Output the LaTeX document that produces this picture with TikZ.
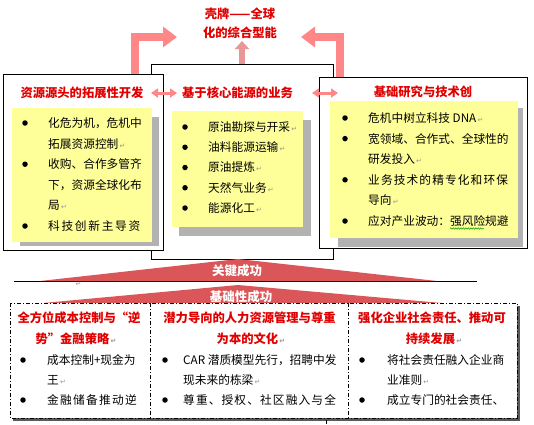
\documentclass[tikz,border=0pt]{standalone}
\usepackage{fontspec}
\setmainfont{Noto Sans CJK SC}
\newfontfamily\symfont{DejaVu Sans}
\usetikzlibrary{arrows.meta,decorations.pathmorphing}
\definecolor{tred}{RGB}{225,0,0}
\definecolor{apink}{RGB}{255,135,135}
\definecolor{mpink}{RGB}{232,150,150}
\definecolor{tri}{RGB}{218,86,88}
\definecolor{yel}{RGB}{255,255,153}
\definecolor{shd}{RGB}{178,178,178}
\definecolor{pm}{RGB}{150,150,150}
\newcommand{\pmark}{{\symfont\fontsize{7}{7}\selectfont\color{pm}\,↵}}
\newcommand{\lsp}[2]{{\addfontfeature{LetterSpace=#1}#2}}
\begin{document}
\begin{tikzpicture}[x=1pt,y=-1pt,
  body/.style={anchor=west,inner sep=0pt,font=\fontsize{11.7}{12}\selectfont},
  ttl/.style={inner sep=0pt,text=tred,font=\fontsize{12.3}{13}\selectfont\bfseries},
  wttl/.style={inner sep=0pt,text=white,font=\fontsize{12.5}{13}\selectfont\bfseries},
  bul/.style={circle,fill=black,inner sep=0pt,minimum size=5.5pt},
  frame/.style={draw=black,fill=white,line width=0.8pt,inner sep=0pt},
  bigarrow/.style={draw=apink,line width=8pt,-{Triangle[width=20pt,length=14pt]}},
  midarrow/.style={draw=mpink,line width=6pt,-{Triangle[width=14pt,length=8pt]}},
  dblarrow/.style={draw=apink,line width=3pt,{Triangle[width=9pt,length=7pt]}-{Triangle[width=9pt,length=7pt]}},
  dashdot/.style={draw=black,line width=0.9pt,dash pattern=on 4pt off 2pt on 1pt off 2pt}
]
\useasboundingbox (0,0) rectangle (534,424);

% title
\node[ttl] (t1) at (240,14) {壳牌——全球};
\node[ttl] (t2) at (240,33) {化的综合型能};

% center box
\node[frame,minimum width=182pt,minimum height=195pt] (cbox) at (242,161.5) {};
\fill[shd] (179,120) rectangle (311,236);
\fill[yel] (172,111) rectangle (303,227);
\node[ttl] (ct) at (237.5,93) {基于核心能源的业务};
\foreach \i/\t in {0/原油勘探与开采,1/油料能源运输,2/原油提炼,3/天然气业务,4/能源化工}{
  \node[bul] (cb\i) at (185,127+20.25*\i) {};
  \node[body] (cl\i) at (208,127+20.25*\i) {\t\pmark};
}

% left box
\node[frame,minimum width=160pt,minimum height=176pt] (lbox) at (83,162) {};
\fill[shd] (20,117) rectangle (159,246);
\fill[yel] (12,108) rectangle (152,242);
\node[ttl] (lt) at (82,93) {资源源头的拓展性开发};
\node[bul] (lb0) at (25,123) {};
\node[bul] (lb2) at (25,164.2) {};
\node[bul] (lb5) at (25,226) {};
\node[body] (ll0) at (48,123) {化危为机，危机中};
\node[body] (ll1) at (48,143.6) {拓展资源控制\pmark};
\node[body] (ll2) at (48,164.2) {收购、合作多管齐};
\node[body] (ll3) at (48,184.8) {下，资源全球化布};
\node[body] (ll4) at (48,205.4) {局\pmark};
\node[body] (ll5) at (48,226) {\lsp{14.5}{科技创新主导资}};

% right box
\node[frame,minimum width=208pt,minimum height=171pt] (rbox) at (423,162.5) {};
\fill[shd] (338,108) rectangle (523,247);
\fill[yel] (330,101) rectangle (518,238);
\node[ttl] (rt) at (423,92) {基础研究与技术创};
\node[bul] (rb0) at (345,118) {};
\node[bul] (rb1) at (345,138.6) {};
\node[bul] (rb3) at (345,179.8) {};
\node[bul] (rb5) at (345,221) {};
\node[body] (rl0) at (368,118) {危机中树立科技 DNA\pmark};
\node[body] (rl1) at (368,138.6) {宽领域、合作式、全球性的};
\node[body] (rl2) at (368,159.2) {研发投入\pmark};
\node[body] (rl3) at (368,179.8) {\lsp{9.5}{业务技术的精专化和环保}};
\node[body] (rl4) at (368,200.4) {导向\pmark};
\node[body] (rl5) at (368,221) {应对产业波动：强风险规避};
\coordinate (wv1) at (450,228.5);
\coordinate (wv2) at (484,228.5);
\draw[green!60!black,line width=0.5pt,decorate,decoration={snake,amplitude=0.7pt,segment length=2.5pt}] (wv1) -- (wv2);

% connectors between boxes
\coordinate (da1) at (151,93);
\coordinate (da2) at (177,93);
\coordinate (da3) at (312,93);
\coordinate (da4) at (338,93);
\draw[dblarrow] (da1) -- (da2);
\draw[dblarrow] (da3) -- (da4);

% big arrows to title
\coordinate (la0) at (135,74);
\coordinate (lat) at (177,37);
\coordinate (ra0) at (340,77);
\coordinate (rat) at (301,37);
\coordinate (ma0) at (242,64);
\coordinate (mat) at (242,41);
\draw[bigarrow] (la0) |- (lat);
\draw[bigarrow] (ra0) |- (rat);
\draw[midarrow] (ma0) -- (mat);

% key success triangles
\coordinate (bl1) at (14,281);
\coordinate (bl2) at (477,281);
\draw[line width=0.8pt] (bl1) -- (bl2);
\fill[tri] (40,281) -- (238,259) -- (437,281) -- cycle;
\node[wttl] (k1) at (237,271) {关键成功};
\node[inner sep=0pt] (pm0) at (78,284) {\pmark};
\fill[tri] (43,303) -- (238,285) -- (442,303) -- cycle;
\node[wttl] (k2) at (241,297) {基础性成功};

% bottom box
\fill[black!65] (13,306) rectangle (519.5,420.5);
\fill[white] (10,303) rectangle (517,418);
\draw[dashdot] (10,303) rectangle (517,418);
\coordinate (dv1t) at (150,303);
\coordinate (dv1b) at (150,418);
\coordinate (dv2t) at (348,303);
\coordinate (dv2b) at (348,418);
\draw[dashdot] (dv1t) -- (dv1b);
\draw[dashdot] (dv2t) -- (dv2b);
\coordinate (tk1) at (326,420);
\coordinate (tk2) at (326,424);
\draw[line width=0.8pt] (tk1) -- (tk2);

% column 1
\node[ttl] (a1) at (79,318) {全方位成本控制与“逆};
\node[ttl] (a2) at (76,339) {势”金融策略\pmark};
\node[bul] (ab0) at (23,360) {};
\node[bul] (ab2) at (23,400) {};
\node[body] (al0) at (47,360) {成本控制+现金为};
\node[body] (al1) at (47,380) {王\pmark};
\node[body] (al2) at (47,400) {\lsp{11}{金融储备推动逆}};

% column 2
\node[ttl] (b1) at (249.5,318) {潜力导向的人力资源管理与尊重};
\node[ttl] (b2) at (251,339) {为本的文化\pmark};
\node[bul] (bb0) at (165,360) {};
\node[bul] (bb2) at (165,400) {};
\node[body] (bl0) at (183,360) {CAR 潜质模型先行，招聘中发};
\node[body] (bln1) at (183,380) {现未来的栋梁\pmark};
\node[body] (bln2) at (183,400) {\lsp{9.6}{尊重、授权、社区融入与全}};

% column 3
\node[ttl] (c1) at (432,318) {强化企业社会责任、推动可};
\node[ttl] (c2) at (434,339) {持续发展\pmark};
\node[bul] (cc0) at (362,360) {};
\node[bul] (cc2) at (362,400) {};
\node[body] (cln0) at (387,360) {将社会责任融入企业商};
\node[body] (cln1) at (387,380) {业准则\pmark};
\node[body] (cln2) at (387,400) {成立专门的社会责任、};
\end{tikzpicture}
\end{document}
